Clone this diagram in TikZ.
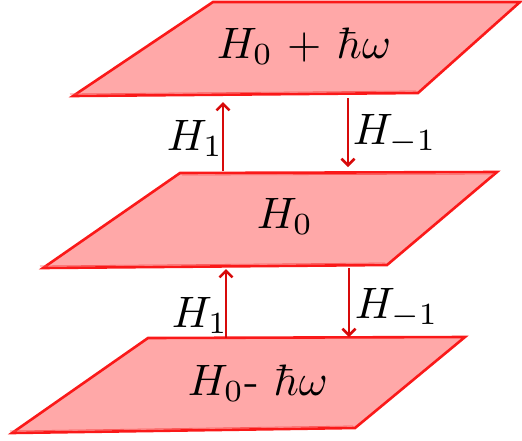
\documentclass[tikz,border=0pt]{standalone}
\usetikzlibrary{arrows.meta}
\definecolor{planefill}{RGB}{255,168,168}
\definecolor{planeedge}{RGB}{250,25,25}
\definecolor{arrowred}{RGB}{215,10,10}
\begin{document}
\begin{tikzpicture}[x=1pt,y=-1pt,
  plane/.style={fill=planefill,draw=planeedge,line width=2.6pt,line join=miter},
  planeinner/.style={draw=planeedge!70,line width=0.8pt},
  lbl/.style={scale=4.4,inner sep=0pt,anchor=base west},
  arr/.style={draw=arrowred,line width=2.5pt,-{Straight Barb[length=6.5pt,width=13pt]}}]
\useasboundingbox (0,0) rectangle (522,440);
% planes
\draw[plane] (213,2) -- (520,2) -- (418,93) -- (73,96) -- cycle;
\draw[planeinner] (70,94) -- (416,91);
\draw[plane] (180,173) -- (497,172) -- (387,265) -- (43,268) -- cycle;
\draw[planeinner] (40,266) -- (385,263) (182,175) -- (494,174);
\draw[plane] (148,338) -- (465,337) -- (355,428) -- (12,433) -- cycle;
\draw[planeinner] (10,431) -- (353,426);
% texts
\node[lbl] (top) at (216,58) {$H_0$ + $\hbar\omega$};
\node[lbl] (mid) at (256,228) {$H_0$};
\node[lbl] (bot) at (187,395) {$H_0$- $\hbar\omega$};
\node[lbl] (la) at (166,150) {$H_1$};
\node[lbl] (lb) at (352,144) {$H_{-1}$};
\node[lbl] (lc) at (171,327) {$H_1$};
\node[lbl] (ld) at (354,318) {$H_{-1}$};
% arrow endpoints
\coordinate (u1s) at (223,171);
\coordinate (u1e) at (223,102);
\coordinate (d1s) at (348,98);
\coordinate (d1e) at (348,167);
\coordinate (u2s) at (226,338);
\coordinate (u2e) at (226,269);
\coordinate (d2s) at (349,268);
\coordinate (d2e) at (349,337);
\draw[arr] (u1s) -- (u1e);
\draw[arr] (d1s) -- (d1e);
\draw[arr] (u2s) -- (u2e);
\draw[arr] (d2s) -- (d2e);
\end{tikzpicture}
\end{document}
